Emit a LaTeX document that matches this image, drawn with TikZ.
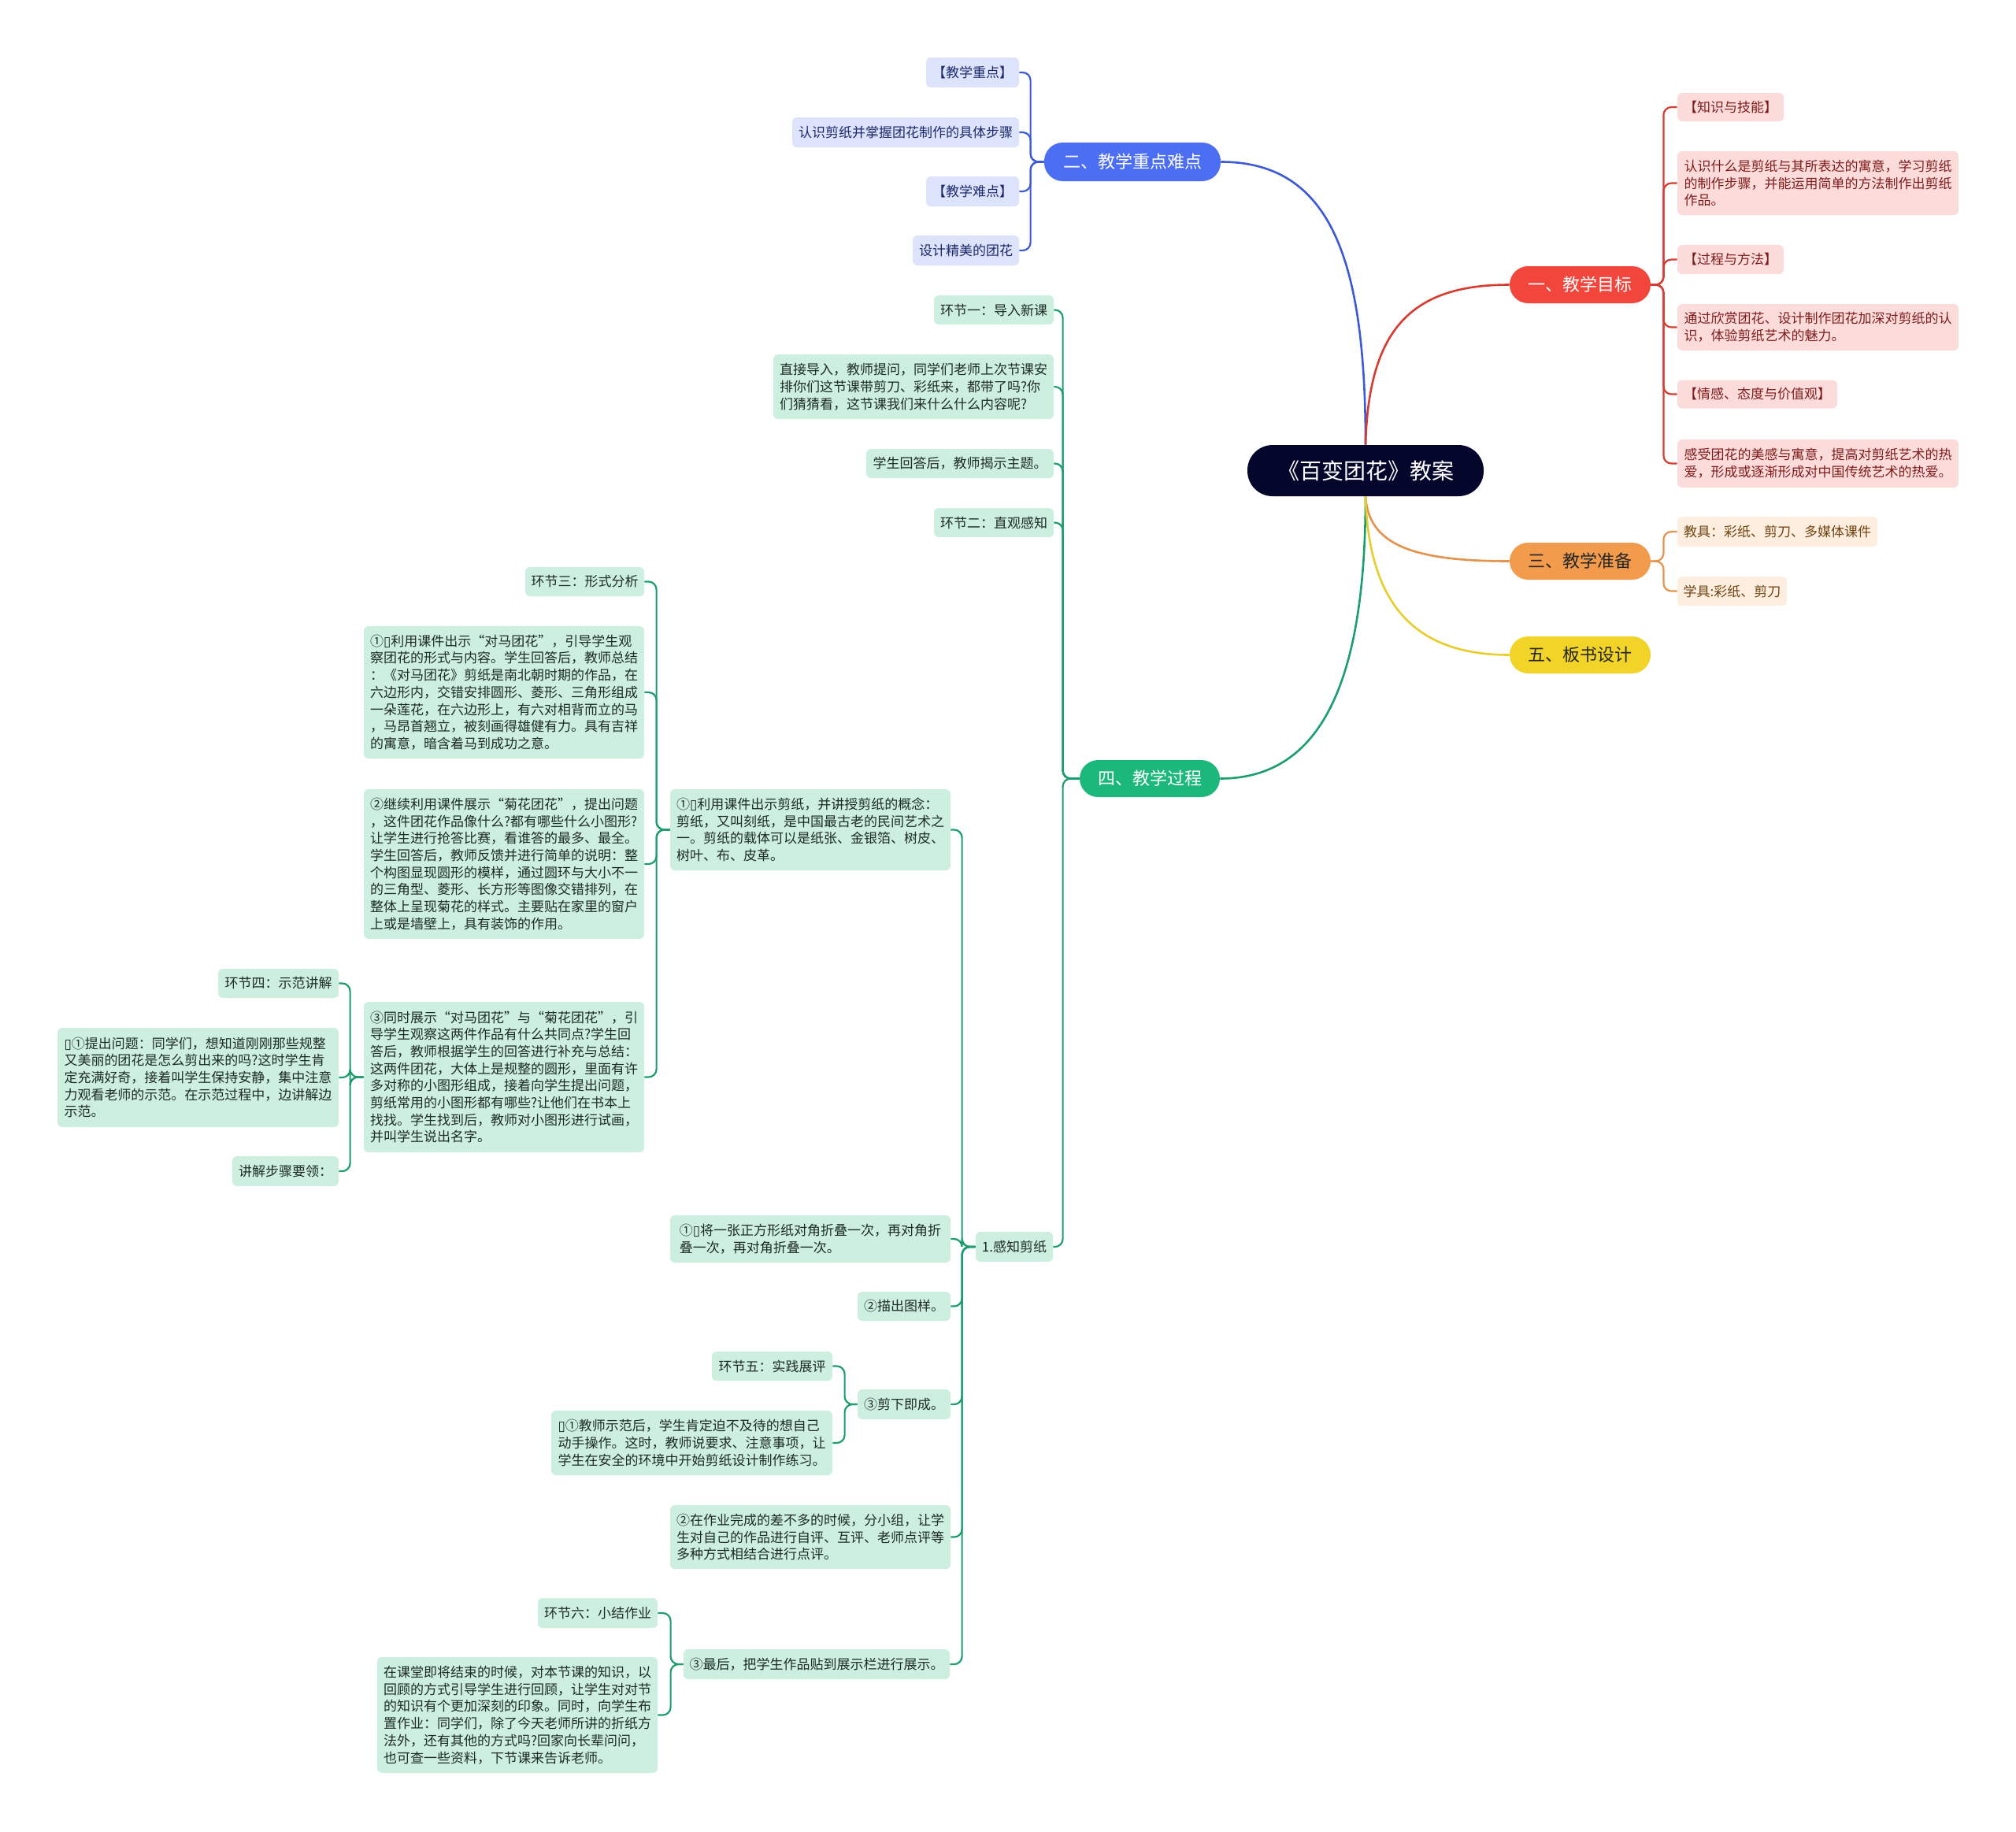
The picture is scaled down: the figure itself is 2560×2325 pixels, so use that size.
\documentclass[tikz,border=0pt]{standalone}
\usepackage{fontspec}
\setmainfont{Noto Sans CJK SC}
\newfontfamily\djv{DejaVu Sans}
\newcommand\mbx{{\djv ▯}}
\definecolor{rootC}{HTML}{05062B}
\definecolor{redM}{HTML}{F2453B}
\definecolor{redLn}{HTML}{D63C32}
\definecolor{redL}{HTML}{FCDCDB}
\definecolor{redT}{HTML}{7E1C1C}
\definecolor{bluM}{HTML}{4B6EF2}
\definecolor{bluLn}{HTML}{3C5AD6}
\definecolor{bluL}{HTML}{DDE3FA}
\definecolor{bluT}{HTML}{1C2A6A}
\definecolor{oraM}{HTML}{F39B4C}
\definecolor{oraLn}{HTML}{E4924C}
\definecolor{oraL}{HTML}{FDEEDF}
\definecolor{oraT}{HTML}{6E4412}
\definecolor{yelM}{HTML}{F1D427}
\definecolor{yelLn}{HTML}{E8CD2C}
\definecolor{grnM}{HTML}{1CB77A}
\definecolor{grnLn}{HTML}{1C9E6C}
\definecolor{grnL}{HTML}{CDEFE0}
\definecolor{grnT}{HTML}{1D2B24}
\tikzset{
  nbox/.style={rounded corners=3pt, inner sep=0pt, align=left,
    font=\fontsize{8.5pt}{10.85pt}\selectfont},
  sz/.style 2 args={minimum width=#1pt, minimum height=#2pt},
  rbox/.style={nbox, fill=redL, text=redT},
  obox/.style={nbox, fill=oraL, text=oraT},
  bbox/.style={nbox, fill=bluL, text=bluT},
  gbox/.style={nbox, fill=grnL, text=grnT},
  lvl/.style={rounded corners=11.75pt, inner sep=0pt,
    font=\fontsize{11pt}{13pt}\selectfont, minimum height=23.5pt},
  mainln/.style={line width=1.3pt},
  subln/.style={line width=1.1pt, rounded corners=5pt}
}
\begin{document}
\begin{tikzpicture}[x=0.5pt, y=-0.5pt]
\useasboundingbox (0,0) rectangle (2560,2325);

% root and level 1
\node[rounded corners=16pt, fill=rootC, text=white, inner sep=0pt, minimum width=150pt, minimum height=32.5pt,
  font=\fontsize{14pt}{16pt}\selectfont] (root) at (1734,597.5) {《百变团花》教案};
\node[lvl, fill=redM, text=white, minimum width=89.5pt] (n1) at (2006.5,361.5) {一、教学目标};
\node[lvl, fill=bluM, text=white, minimum width=112pt, minimum height=24.5pt] (n2) at (1438,205.5) {二、教学重点难点};
\node[lvl, fill=oraM, text=black!85, minimum width=89.5pt] (n3) at (2006.5,712.5) {三、教学准备};
\node[lvl, fill=grnM, text=white, minimum width=89pt] (n4) at (1460,988.5) {四、教学过程};
\node[lvl, fill=yelM, text=black!85, minimum width=89.5pt] (n5) at (2006.5,831.5) {五、板书设计};

% red children
\node[rbox, sz={67.5}{18}] (r1) at (2197.5,136) {【知识与技能】};
\node[rbox, sz={178.5}{40.5}] (r2) at (2308.5,232.5) {认识什么是剪纸与其所表达的寓意，学习剪纸\\的制作步骤，并能运用简单的方法制作出剪纸\\作品。};
\node[rbox, sz={67.5}{18.5}] (r3) at (2197.5,329.5) {【过程与方法】};
\node[rbox, sz={178.5}{29.5}] (r4) at (2308.5,415.5) {通过欣赏团花、设计制作团花加深对剪纸的认\\识，体验剪纸艺术的魅力。};
\node[rbox, sz={101.5}{18}] (r5) at (2231.5,500.5) {【情感、态度与价值观】};
\node[rbox, sz={178.5}{30.5}] (r6) at (2308.5,588.5) {感受团花的美感与寓意，提高对剪纸艺术的热\\爱，形成或逐渐形成对中国传统艺术的热爱。};

% orange children
\node[obox, sz={127}{19}] (o1) at (2257,675) {教具：彩纸、剪刀、多媒体课件};
\node[obox, sz={69.5}{18.5}] (o2) at (2199.5,750.5) {学具:彩纸、剪刀};

% blue children
\node[bbox, sz={59}{19}] (b1) at (1235,92) {【教学重点】};
\node[bbox, sz={144}{19}] (b2) at (1150,168) {认识剪纸并掌握团花制作的具体步骤};
\node[bbox, sz={59}{19}] (b3) at (1235,243) {【教学难点】};
\node[bbox, sz={67.5}{19}] (b4) at (1226.5,318) {设计精美的团花};

% green children of 四
\node[gbox, sz={76}{18.5}] (g1) at (1262,393.5) {环节一：导入新课};
\node[gbox, sz={178}{41}] (g2) at (1160,491) {直接导入，教师提问，同学们老师上次节课安\\排你们这节课带剪刀、彩纸来，都带了吗?你\\们猜猜看，这节课我们来什么什么内容呢?};
\node[gbox, sz={119}{18.5}] (g3) at (1219,588.5) {学生回答后，教师揭示主题。};
\node[gbox, sz={76}{18.5}] (g4) at (1262,663.5) {环节二：直观感知};
\node[gbox, sz={49}{19}] (g5) at (1288,1583) {1.感知剪纸};

% children of 1.感知剪纸
\node[gbox, sz={178}{51.5}] (k1) at (1029,1053.5) {①\mbx 利用课件出示剪纸，并讲授剪纸的概念：\\剪纸，又叫刻纸，是中国最古老的民间艺术之\\一。剪纸的载体可以是纸张、金银箔、树皮、\\树叶、布、皮革。};
\node[gbox, sz={178}{30}] (k2) at (1029,1573) {①\mbx 将一张正方形纸对角折叠一次，再对角折\\叠一次，再对角折叠一次。};
\node[gbox, sz={59}{18.5}] (k3) at (1148,1658.5) {②描出图样。};
\node[gbox, sz={59}{19}] (k4) at (1148,1783) {③剪下即成。};
\node[gbox, sz={178}{40.5}] (k5) at (1029,1951.5) {②在作业完成的差不多的时候，分小组，让学\\生对自己的作品进行自评、互评、老师点评等\\多种方式相结合进行点评。};
\node[gbox, sz={169}{19}] (k6) at (1037,2113) {③最后，把学生作品贴到展示栏进行展示。};

% children of k1
\node[gbox, sz={75.5}{18.5}] (m1) at (742.5,738.5) {环节三：形式分析};
\node[gbox, sz={178}{84}] (m2) at (640,879) {①\mbx 利用课件出示“对马团花”，引导学生观\\察团花的形式与内容。学生回答后，教师总结\\：《对马团花》剪纸是南北朝时期的作品，在\\六边形内，交错安排圆形、菱形、三角形组成\\一朵莲花，在六边形上，有六对相背而立的马\\，马昂首翘立，被刻画得雄健有力。具有吉祥\\的寓意，暗含着马到成功之意。};
\node[gbox, sz={178}{95}] (m3) at (640,1097) {②继续利用课件展示“菊花团花”，提出问题\\，这件团花作品像什么?都有哪些什么小图形?\\让学生进行抢答比赛，看谁答的最多、最全。\\学生回答后，教师反馈并进行简单的说明：整\\个构图显现圆形的模样，通过圆环与大小不一\\的三角型、菱形、长方形等图像交错排列，在\\整体上呈现菊花的样式。主要贴在家里的窗户\\上或是墙壁上，具有装饰的作用。};
\node[gbox, sz={178}{95.5}] (m4) at (640,1367.5) {③同时展示“对马团花”与“菊花团花”，引\\导学生观察这两件作品有什么共同点?学生回\\答后，教师根据学生的回答进行补充与总结：\\这两件团花，大体上是规整的圆形，里面有许\\多对称的小图形组成，接着向学生提出问题，\\剪纸常用的小图形都有哪些?让他们在书本上\\找找。学生找到后，教师对小图形进行试画，\\并叫学生说出名字。};

% children of m4
\node[gbox, sz={76.5}{18.5}] (q41) at (353.5,1248.5) {环节四：示范讲解};
\node[gbox, sz={178.5}{63}] (q42) at (251.5,1368) {\mbx①提出问题：同学们，想知道刚刚那些规整\\又美丽的团花是怎么剪出来的吗?这时学生肯\\定充满好奇，接着叫学生保持安静，集中注意\\力观看老师的示范。在示范过程中，边讲解边\\示范。};
\node[gbox, sz={67.5}{19}] (q43) at (362.5,1487) {讲解步骤要领：};

% children of k4
\node[gbox, sz={76.5}{18.5}] (p1) at (980.5,1734.5) {环节五：实践展评};
\node[gbox, sz={178.5}{41}] (p2) at (878.5,1832) {\mbx①教师示范后，学生肯定迫不及待的想自己\\动手操作。这时，教师说要求、注意事项，让\\学生在安全的环境中开始剪纸设计制作练习。};

% children of k6
\node[gbox, sz={76}{19}] (s1) at (759,2048) {环节六：小结作业};
\node[gbox, sz={178}{73.5}] (s2) at (657,2177.5) {在课堂即将结束的时候，对本节课的知识，以\\回顾的方式引导学生进行回顾，让学生对对节\\的知识有个更加深刻的印象。同时，向学生布\\置作业：同学们，除了今天老师所讲的折纸方\\法外，还有其他的方式吗?回家向长辈问问，\\也可查一些资料，下节课来告诉老师。};

% main curves
\draw[mainln, draw=bluLn] (root.north) .. controls (1734,330) and (1690,205.5) .. (n2.east);
\draw[mainln, draw=redLn] (root.north) .. controls (1738,420) and (1790,361.5) .. (n1.west);
\draw[mainln, draw=grnLn] (root.south) .. controls (1734,880) and (1670,988.5) .. (n4.east);
\draw[mainln, draw=oraLn] (root.south) .. controls (1738,690) and (1790,712.5) .. (n3.west);
\draw[mainln, draw=yelLn] (root.south) .. controls (1738,760) and (1790,831.5) .. (n5.west);

% red branch
\foreach \c in {r1,r2,r3,r4,r5,r6}
  \draw[subln, draw=redLn] (n1.east) -- ++(16,0) |- (\c.west);
% orange branch
\foreach \c in {o1,o2}
  \draw[subln, draw=oraLn] (n3.east) -- ++(16,0) |- (\c.west);
% blue branch
\foreach \c in {b1,b2,b3,b4}
  \draw[subln, draw=bluLn] (n2.west) -- ++(-17,0) |- (\c.east);
% green branch
\foreach \c in {g1,g2,g3,g4,g5}
  \draw[subln, draw=grnLn] (n4.west) -- ++(-21,0) |- (\c.east);
\foreach \c in {k1,k2,k3,k4,k5,k6}
  \draw[subln, draw=grnLn] (g5.west) -- ++(-17,0) |- (\c.east);
\foreach \c in {m1,m2,m3,m4}
  \draw[subln, draw=grnLn] (k1.west) -- ++(-17,0) |- (\c.east);
\foreach \c in {q41,q42,q43}
  \draw[subln, draw=grnLn] (m4.west) -- ++(-17,0) |- (\c.east);
\foreach \c in {p1,p2}
  \draw[subln, draw=grnLn] (k4.west) -- ++(-16,0) |- (\c.east);
\foreach \c in {s1,s2}
  \draw[subln, draw=grnLn] (k6.west) -- ++(-16,0) |- (\c.east);
\end{tikzpicture}
\end{document}
